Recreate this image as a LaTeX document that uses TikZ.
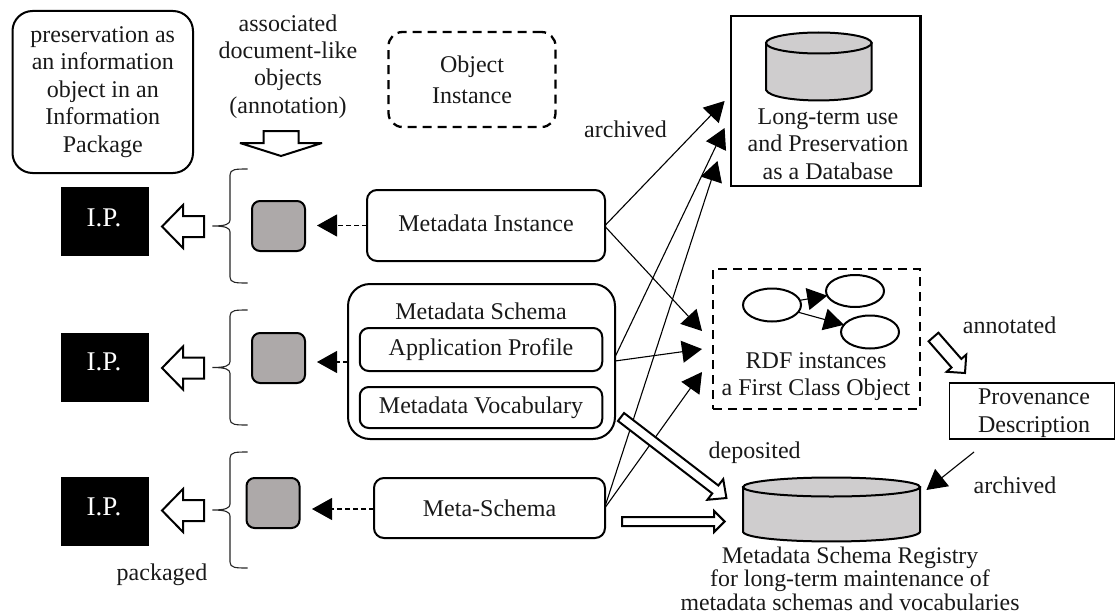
\documentclass[tikz,border=0pt]{standalone}
\usepackage{fontspec}
\setmainfont{Liberation Serif}
\usetikzlibrary{arrows.meta,calc,shapes.geometric}
\definecolor{boxgrey}{HTML}{ADA9A9}
\definecolor{cylgrey}{HTML}{CFCDCE}
\tikzset{
  x=1pt,y=-1pt,
  txt/.style={font=\fontsize{24}{27.4}\selectfont,align=center,inner sep=0pt,outer sep=0pt,text=black!90},
  roundbox/.style={draw,line width=2pt,rounded corners=#1,txt,text=black!90},
  roundbox/.default=10pt,
  dashbox/.style={draw,line width=2.3pt,dash pattern=on 9pt off 6pt,txt},
  greybox/.style={draw,line width=2pt,fill=boxgrey,rounded corners=8pt,minimum width=53pt,minimum height=50pt,inner sep=0pt,outer sep=0pt},
  ipbox/.style={fill=black,minimum width=88.6pt,minimum height=69pt,inner sep=0pt,outer sep=0pt},
  iptxt/.style={txt,text=white,font=\fontsize{27}{30}\selectfont},
  thinarrow/.style={line width=1.1pt,-{Triangle[length=20pt,width=22pt]},shorten >=0pt},
  dasharrow/.style={line width=1.1pt,dash pattern=on 5pt off 3pt,-{Triangle[length=20pt,width=22pt]}},
  blockline/.style={draw,fill=white,line width=2pt,miter limit=6,line join=miter},
  bracecurve/.style={draw,line width=1.1pt,black!85},
  cyl/.style={draw,line width=2pt,fill=cylgrey}
}
% block arrow from (start) to (tip): stem half width #3, head half width #4, head length #5
\newcommand{\blockarrow}[5]{%
  \draw[blockline]
    ($(#1)!#3pt!90:(#2)$) -- ($(#2)!#5pt!(#1)!#3pt!-90:(#1)$) -- ($(#2)!#5pt!(#1)!#4pt!-90:(#1)$) -- (#2)
    -- ($(#2)!#5pt!(#1)!#4pt!90:(#1)$) -- ($(#2)!#5pt!(#1)!#3pt!90:(#1)$) -- ($(#1)!#3pt!-90:(#2)$) -- cycle;}
% brace: x stem left, x spine, x tips, y top, y mid, y bottom
\newcommand{\ipbrace}[6]{%
  \draw[bracecurve] (#3,#4) .. controls (#2+6,#4) and (#2,#4) .. (#2,#4+6) -- (#2,#5-6)
    .. controls (#2,#5-2) and (#2-4,#5) .. (#1,#5)
    .. controls (#2-4,#5) and (#2,#5+2) .. (#2,#5+6) -- (#2,#6-6)
    .. controls (#2,#6) and (#2+6,#6) .. (#3,#6);}
% cylinder
\newcommand{\drumshape}[5]{% x1 x2 ytop(centre of top ellipse) ybot(side end) ry
  \draw[cyl] (#1,#3) -- (#1,#4) .. controls (#1+6,{#4+1.33*#5}) and (#2-6,{#4+1.33*#5}) .. (#2,#4) -- (#2,#3) -- cycle;
  \draw[cyl] ({(#1+#2)/2},#3) ellipse [x radius={(#2-#1)/2},y radius=#5];}
\begin{document}
\begin{tikzpicture}
\useasboundingbox (0,0) rectangle (1115,615);

% top-left note
\node[roundbox=20pt,minimum width=180.5pt,minimum height=162pt] (note) at (102.75,92) {preservation as\\an information\\object in an\\Information\\Package};
\node[txt] (assoc) at (288,66.5) {associated\\document-like\\objects\\(annotation)};
\node[dashbox,rounded corners=14pt,minimum width=167pt,minimum height=95pt] (obj) at (472,79.5) {Object\\[4pt]Instance};

% main boxes
\node[roundbox,minimum width=238pt,minimum height=71pt] (mi) at (486,225.5) {\raisebox{4pt}{Metadata Instance}};
\node[draw,line width=2pt,rounded corners=22pt,minimum width=267pt,minimum height=155pt,outer sep=0pt] (ms) at (481.5,361.5) {};
\node[txt] (mslabel) at (481,311) {Metadata Schema};
\node[roundbox=9pt,minimum width=242.5pt,minimum height=43pt] (ap) at (481,349.5) {Application Profile};
\node[roundbox=9pt,minimum width=242.5pt,minimum height=41pt] (mv) at (481,407.5) {Metadata Vocabulary};
\node[roundbox,minimum width=231pt,minimum height=60pt] (meta) at (489.5,508) {Meta-Schema};

% I.P. boxes
\node[ipbox] (ip1) at (105,221.5) {};
\node[ipbox] (ip2) at (105,367) {};
\node[ipbox] (ip3) at (105,511.5) {};
\node[iptxt] (ip1t) at (104,218) {I.P.};
\node[iptxt] (ip2t) at (104,362) {I.P.};
\node[iptxt] (ip3t) at (104,507) {I.P.};

% grey boxes
\node[greybox] (g1) at (278.5,226) {};
\node[greybox] (g2) at (278.5,358) {};
\node[greybox] (g3) at (273,503) {};

% dashed arrows
\coordinate (g1t) at (317,225.5);
\coordinate (g2t) at (317,362);
\coordinate (g3t) at (312,509);
\draw[dasharrow] (mi.west |- g1t) -- (g1t);
\draw[dasharrow] (ms.west |- g2t) -- (g2t);
\draw[dasharrow] (meta.west |- g3t) -- (g3t);

% braces
\ipbrace{212.5}{230}{247.5}{169}{226}{283}
\ipbrace{212.5}{230}{247.5}{310}{367.5}{425}
\ipbrace{212.5}{230}{247.5}{452}{510}{568}

% left block arrows
\coordinate (a1s) at (204,226.5); \coordinate (a1t) at (162,226.5);
\coordinate (a2s) at (204,368);   \coordinate (a2t) at (162,368);
\coordinate (a3s) at (204,510.5); \coordinate (a3t) at (162,510.5);
\blockarrow{a1s}{a1t}{10.5}{21.5}{21}
\blockarrow{a2s}{a2t}{10.5}{21.5}{21}
\blockarrow{a3s}{a3t}{10.5}{21.5}{21}

% down block arrow
\coordinate (ds) at (281,131); \coordinate (dt) at (281,156);
\blockarrow{ds}{dt}{17.5}{41}{13}

% database box
\node[draw,line width=2.4pt,minimum width=189.5pt,minimum height=170pt,outer sep=0pt] (db) at (825.7,101) {};
\drumshape{766}{871.5}{43}{90}{10.5}
\node[txt] (dbt) at (828,144) {Long-term use\\and Preservation\\as a Database};
\node[txt] (arch1) at (625.5,129) {archived};

% RDF box
\node[dashbox,minimum width=207pt,minimum height=140pt] (rdf) at (816.5,339) {};
\node[draw,line width=2pt,ellipse,minimum width=58pt,minimum height=33pt,inner sep=0pt,outer sep=0pt] (e1) at (772,305) {};
\node[draw,line width=2pt,ellipse,minimum width=58pt,minimum height=32pt,inner sep=0pt,outer sep=0pt] (e2) at (855,291) {};
\node[draw,line width=2pt,ellipse,minimum width=58pt,minimum height=33pt,inner sep=0pt,outer sep=0pt] (e3) at (870,332) {};
\node[txt] (rdft) at (816,376.5) {RDF instances\\a First Class Object};
\draw[thinarrow] (e1) -- (e2);
\draw[thinarrow] (e1) -- (e3);

% thin arrows
\coordinate (miA) at (605.5,225);
\coordinate (miB) at (605.5,227);
\coordinate (msA) at (615,357);
\coordinate (msB) at (615,361);
\coordinate (meA) at (605.5,505);
\coordinate (meB) at (605.5,507);
\coordinate (dbA) at (724.6,101);
\coordinate (dbB) at (724.6,128);
\coordinate (dbC) at (717.5,161);
\coordinate (rdfA) at (702,331);
\coordinate (rdfB) at (702,349);
\coordinate (rdfC) at (702,372);
\draw[thinarrow] (miA) -- (dbA);
\draw[thinarrow] (miB) -- (rdfA);
\draw[thinarrow] (msA) -- (dbB);
\draw[thinarrow] (msB) -- (rdfB);
\draw[thinarrow] (meA) -- (dbC);
\draw[thinarrow] (meB) -- (rdfC);

% provenance
\node[draw,line width=1.1pt,minimum width=165pt,minimum height=56pt,outer sep=0pt,txt] (prov) at (1032,411) {};
\node[txt] (provt) at (1034,413) {Provenance\\Description};
\node[txt] (annot) at (1009.6,325) {annotated};
\coordinate (ans) at (933.5,337); \coordinate (ant) at (965,373);
\blockarrow{ans}{ant}{6.5}{13}{13}

% registry
\drumshape{743}{920}{487}{532}{9.5}
\coordinate (regt) at (926.4,490);
\coordinate (provs) at (974,452);
\draw[thinarrow] (provs) -- (regt);
\node[txt] (arch2) at (1015,485) {archived};
\node[txt] (depo) at (754.7,453) {deposited};
\node[txt,font=\fontsize{23.8}{23.6}\selectfont] (regtxt) at (850,578.5) {Metadata Schema Registry\\for long-term maintenance of\\metadata schemas and vocabularies};

% deposit arrows
\coordinate (d1s) at (621,417); \coordinate (d1t) at (726.4,498);
\blockarrow{d1s}{d1t}{5}{13}{14}
\coordinate (d2s) at (622,521.5); \coordinate (d2t) at (724.6,521.5);
\blockarrow{d2s}{d2t}{4.5}{10.5}{10.5}

% packaged
\node[txt] (pack) at (162,575) {packaged};
\end{tikzpicture}
\end{document}
